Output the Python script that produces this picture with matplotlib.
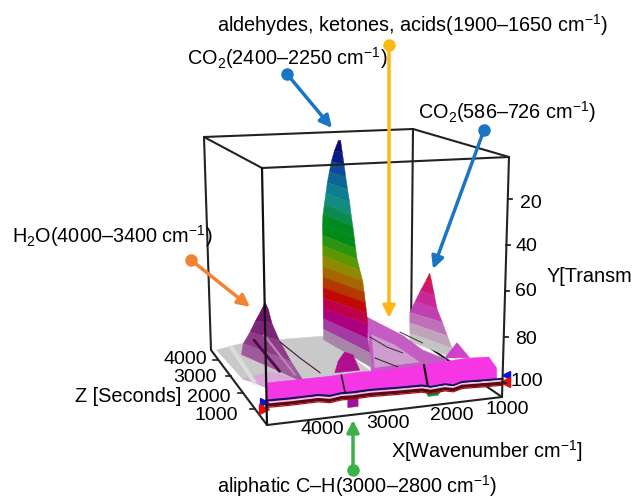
import matplotlib

matplotlib.use("Agg")
import matplotlib.pyplot as plt
import numpy as np

plt.rcParams["font.family"] = ["Liberation Sans", "DejaVu Sans"]
plt.rcParams["mathtext.fontset"] = "custom"
plt.rcParams["mathtext.rm"] = "Liberation Sans"
plt.rcParams["mathtext.default"] = "rm"

# axis ranges of the 3D box
WN_RANGE = (4600, 500)
Z_RANGE = (50, 4600)
T_RANGE = (2, 106)

x_ticks = [4000, 3000, 2000, 1000]
y_ticks = [20, 40, 60, 80, 100]
z_ticks = [4000, 3000, 2000, 1000]

# CO2 2400-2250 peak: contour levels, edges on far and near side
co2_T = [3, 8, 13, 18, 23, 28, 33, 38, 43, 48, 53, 58, 63, 68, 73, 78, 83, 88, 93, 98]
co2_left_wn = [2276, 2354, 2413, 2452, 2492, 2521, 2550, 2579, 2590, 2590, 2590,
               2590, 2590, 2590, 2590, 2590, 2590, 2590, 2590, 2590]
co2_right_wn = [2234, 2279, 2320, 2361, 2400, 2435, 2476, 2448, 2423, 2398, 2370,
                2320, 2267, 2242, 2218, 2193, 2173, 2247, 2271, 2312]
co2_right_z = [3690, 3460, 3235, 3010, 2780, 2550, 2325, 2325, 2325, 2325, 2325,
               2325, 2325, 2325, 2325, 2325, 2325, 2100, 1870, 1640]
co2_colors = ["#0a0a6e", "#0c1c86", "#0f4a9c", "#0c6596", "#0f7d90", "#128c80",
              "#0a8c50", "#008a20", "#008a18", "#2c9410", "#5c9600", "#8f8a00", "#a56800",
              "#b03a00", "#c00808", "#be0048", "#ac0080", "#a23aa2", "#a884a8"]

# CO2 586-726 peak
co2b_T = [66.9, 70, 75, 80, 85, 90, 95, 99]
co2b_left_wn = [692, 750, 861, 963, 1062, 1062, 1057, 1057]
co2b_right_wn = [692, 734, 767, 800, 780, 767, 725, 700]
co2b_right_z = [3235, 3010, 2780, 2550, 2325, 2100, 1960, 1800]
co2b_colors = ["#d81030", "#d0186a", "#c82898", "#c040b0", "#c070b8", "#bfa4bb", "#c4c4c4"]

# H2O 4000-3400 peak
h2o_T = [76.5, 80, 85, 90, 95, 100]
h2o_left_wn = [3788, 3862, 3985, 4096, 4231, 4272]
h2o_right_wn = [3788, 3727, 3723, 3706, 3673, 3600]
h2o_right_z = [3460, 3460, 3235, 2780, 2100, 1415]
h2o_colors = ["#5e0a58", "#6e1468", "#7c2476", "#8e3c88", "#a05a9c"]

# gray floor behind the peaks
floor_wn = [4520, 4297, 3612, 2673, 2378, 4325, 4465]
floor_z = [4460, 3460, 3460, 3460, 1415, 1415, 2552]
floor_T = [105, 95, 94.5, 94.6, 98.3, 99, 104.5]

pale_wn = [4465, 4325, 3780, 4231]
pale_z = [2552, 1415, 1415, 1415]
pale_T = [104, 100.2, 97.5, 93.8]

# mauve surface between the two CO2 peaks (z = 2325)
ridge_wn = [2191, 1892, 1518, 1144, 696, 696, 2097]
ridge_T = [79.6, 84, 89.5, 97, 102.5, 108, 108.6]
mid_wn = [2097, 1668, 1201, 2042]
mid_T = [88, 93.5, 102.5, 103]

# small peaks just behind the front curtain (z = 1415)
ch_wn = [3054, 2990, 2874, 2720, 2600]
ch_T = [97, 92, 88.3, 90, 97]
fp_wn = [1056, 837, 602]
fp_T = [95.4, 89, 96.4]

# front curtain at z = 50
front_wn = [4600, 3480, 3000, 2500, 2240, 1500, 1150, 750, 610, 600, 4600]
front_T = [89, 89, 88.6, 89, 89, 88, 87.5, 88, 93, 98, 97.5]

# baseline traces on the front plane
base_wn = [4600, 4200, 3700, 3500, 3300, 3100, 2800, 2300, 1900, 1750, 1500, 1350, 1200, 800, 500]
base_T = [97.6, 97.8, 97.7, 98.6, 98, 98.2, 98, 98.4, 98.6, 99.6, 99.2, 100, 99, 99.4, 99.6]

# thin dark curves on the surface (z = 2325)
curve1_wn, curve1_T = [3817, 3443, 3069], [87.4, 95.5, 103]
curve2_wn, curve2_T = [2042, 1611], [98.6, 103.7]
curve3_wn, curve3_T = [2135, 1818, 1518], [88.8, 94.1, 97.5]
curve4_wn, curve4_T = [1574, 1144], [87.8, 93.8]

# streaks running along z on the H2O flank and on the floor
streak1_wn, streak1_z, streak1_T = [4190, 4054], [2780, 1415], [88.8, 94]
streak2_wn, streak2_z, streak2_T = [3993, 3780], [2780, 1415], [87, 96]
streak3_wn, streak3_z, streak3_T = [4350, 4380], [3900, 2000], [100, 102]

CORNERS_X = {(0, 0, 0): 262, (1, 0, 0): 509, (0, 1, 0): 204, (1, 1, 0): 413,
             (0, 0, 1): 267, (1, 0, 1): 502, (0, 1, 1): 211, (1, 1, 1): 411}
CORNERS_Y = {(0, 0, 0): 168, (1, 0, 0): 157, (0, 1, 0): 137, (1, 1, 0): 129,
             (0, 0, 1): 425, (1, 0, 1): 397, (0, 1, 1): 350, (1, 1, 1): 335}


def project(wn, z, t):
    """Box coordinates to figure pixels, trilinear between the box corners."""
    a = (WN_RANGE[0] - np.asarray(wn, float)) / (WN_RANGE[0] - WN_RANGE[1])
    s = (np.asarray(z, float) - Z_RANGE[0]) / (Z_RANGE[1] - Z_RANGE[0])
    h = (np.asarray(t, float) - T_RANGE[0]) / (T_RANGE[1] - T_RANGE[0])
    px, py = 0, 0
    for (i, j, k), cx in CORNERS_X.items():
        w = (a if i else 1 - a) * (s if j else 1 - s) * (h if k else 1 - h)
        px = px + w * cx
        py = py + w * CORNERS_Y[(i, j, k)]
    return px, py


def poly(ax, wn, z, t, color, zorder):
    z = np.full(len(wn), z) if np.isscalar(z) else z
    px, py = project(wn, z, t)
    ax.fill(px, py, color=color, lw=0.3, zorder=zorder)


def peak(ax, levels, left_wn, left_z, right_wn, right_z, colors, zorder):
    for i, c in enumerate(colors):
        wn = [left_wn[i], right_wn[i], right_wn[i + 1], left_wn[i + 1]]
        z = [left_z, right_z[i], right_z[i + 1], left_z]
        t = [levels[i], levels[i], levels[i + 1], levels[i + 1]]
        poly(ax, wn, np.array(z), t, c, zorder)


def line(ax, wn, z, t, color="black", lw=1.0, zorder=5):
    z = np.full(len(wn), z) if np.isscalar(z) else z
    px, py = project(wn, z, t)
    ax.plot(px, py, color=color, lw=lw, zorder=zorder, solid_capstyle="round")


fig = plt.figure(figsize=(6.33, 4.99), dpi=100)
ax = fig.add_axes([0, 0, 1, 1])
ax.set_xlim(0, 633)
ax.set_ylim(499, 0)
ax.axis("off")

wa, wb = WN_RANGE
za, zb = Z_RANGE
ta, tb = T_RANGE
box = "#222222"

# back edges of the box
line(ax, [wa, wb], zb, [ta, ta], box, 1.5, 1)
line(ax, [wa, wa], zb, [ta, tb], box, 1.5, 1)
line(ax, [wb, wb], zb, [ta, tb], box, 1.5, 1)
line(ax, [wa, wa], [za, zb], [ta, ta], box, 1.5, 1)
line(ax, [wb, wb], [za, zb], [ta, ta], box, 1.5, 1)
line(ax, [wa, wa], [za, zb], [tb, tb], box, 1.5, 1)
line(ax, [wb, wb], [za, zb], [tb, tb], box, 1.5, 1)

poly(ax, floor_wn, np.array(floor_z), floor_T, "#c9c9c9", 2)
poly(ax, pale_wn, np.array(pale_z), pale_T, "#d8a8d8", 2.1)
line(ax, streak3_wn, np.array(streak3_z), streak3_T, "#dcdcdc", 3.0, 2.2)
peak(ax, co2b_T, co2b_left_wn, 3235, co2b_right_wn, co2b_right_z, co2b_colors, 2.4)
poly(ax, ridge_wn, 2325, ridge_T, "#c45cc4", 2.5)
poly(ax, mid_wn, 2325, mid_T, "#cf9ccf", 2.6)
line(ax, curve2_wn, 2325, curve2_T, "#222222", 0.7, 2.7)
line(ax, curve3_wn, 2325, curve3_T, "#3a2a3a", 0.7, 2.7)
line(ax, curve4_wn, 2325, curve4_T, "#3a2a3a", 0.7, 2.7)
peak(ax, h2o_T, h2o_left_wn, 3460, h2o_right_wn, h2o_right_z, h2o_colors, 3)
line(ax, streak1_wn, np.array(streak1_z), streak1_T, "#4e0a4a", 2.0, 3.1)
line(ax, streak2_wn, np.array(streak2_z), streak2_T, "#c080b8", 1.6, 3.1)
peak(ax, co2_T, co2_left_wn, 3690, co2_right_wn, co2_right_z, co2_colors, 3.2)
poly(ax, ch_wn, 1415, ch_T, "#b01090", 4.2)
poly(ax, fp_wn, 1415, fp_T, "#d040c8", 4.2)
line(ax, curve1_wn, 2325, curve1_T, "#4a1040", 0.8, 4.5)

poly(ax, front_wn, 50, front_T, "#f436e4", 5)
line(ax, [3300, 3230], 50, [89, 97], "#222222", 1.2, 5.5)
line(ax, [1870, 1800], 50, [88.5, 97.5], "#111111", 1.6, 5.5)
poly(ax, [3190, 3010, 3010, 3190], 50, [99, 99, 102.8, 102.8], "#a0109a", 4.9)
poly(ax, [1850, 1720, 1560, 1620, 1790], 50, [99.2, 99.4, 100.2, 102, 102], "#0e8a30", 4.9)

base_T = np.array(base_T)
line(ax, base_wn, 50, base_T - 1.5, "#14145e", 1.5, 6)
line(ax, base_wn, 50, base_T - 0.6, "#f0c8d8", 1.3, 6)
line(ax, base_wn, 50, base_T + 0.4, "#5a0a14", 2.4, 6)
line(ax, base_wn, 50, base_T + 1.3, "#b01020", 0.9, 6)

# end markers of the baseline
for wn, mark in [(wa, ">"), (wb, "<")]:
    px, py = project(wn, za, 96.5)
    ax.plot(px - 3 if wn == wa else px + 3, py, mark, color="#1010e0", ms=6, zorder=6)
    px, py = project(wn, za, 99.5)
    ax.plot(px - 3 if wn == wa else px + 3, py, mark, color="#e01010", ms=7, zorder=6)

# front edges of the box, over the surface
line(ax, [wa, wb], za, [ta, ta], box, 1.5, 7)
line(ax, [wa, wa], za, [ta, tb], "#111111", 1.6, 7)
line(ax, [wb, wb], za, [ta, tb], box, 1.5, 7)
line(ax, [wa, wb], za, [tb, tb], box, 1.5, 7)

for v in y_ticks:
    px, py = project(wb, za, v)
    ax.plot([px, px + 4], [py, py], color=box, lw=1.3, zorder=7)
for v in z_ticks:
    px, py = project(wa, v, tb)
    ax.plot([px - 5, px], [py, py], color=box, lw=1.2, zorder=7)

TICK_SIZE = 14
for v, (px, py) in zip(x_ticks, [(322, 430), (388, 424), (452, 415), (507, 410)]):
    ax.text(px, py, str(v), fontsize=TICK_SIZE, ha="center", va="center", zorder=9)
for v, (px, py) in zip(y_ticks, [(520, 203), (515, 246), (515, 291), (515, 339), (511, 382)]):
    ax.text(px, py, str(v), fontsize=TICK_SIZE, ha="left", va="center", zorder=9)
for v, (px, py) in zip(z_ticks, [(207, 359), (217, 378), (231, 397), (238, 415)]):
    ax.text(px, py, str(v), fontsize=TICK_SIZE, ha="right", va="center", zorder=9)

ARROWS = [
    ((287, 74), (332, 128), "#1a75c4"),
    ((389, 45), (389, 318), "#fdb913"),
    ((484, 130), (433, 269), "#1a75c4"),
    ((191, 260), (250, 307), "#f58233"),
    ((353, 470), (353, 420), "#3cb14a"),
]
for start, end, color in ARROWS:
    ax.annotate("", xy=end, xytext=start, zorder=8,
                arrowprops=dict(arrowstyle="-|>", lw=2.5, color=color,
                                mutation_scale=18, shrinkA=0, shrinkB=0))
    ax.plot(*start, "o", color=color, ms=8, zorder=8)

LABELS = [
    (217, 25, "aldehydes, ketones, acids(1900–1650 cm$^{-1}$)"),
    (187, 58, "CO$_2$(2400–2250 cm$^{-1}$)"),
    (418, 112, "CO$_2$(586–726 cm$^{-1}$)"),
    (12, 236, "H$_2$O(4000–3400 cm$^{-1}$)"),
    (547, 277, "Y[Transm"),
    (391, 451, "X[Wavenumber cm$^{-1}$]"),
    (75, 396, "Z [Seconds]"),
    (217, 486, "aliphatic C–H(3000–2800 cm$^{-1}$)"),
]
for px, py, text in LABELS:
    ax.text(px, py, text, fontsize=14.3, ha="left", va="center", zorder=9)

fig.savefig("out.png", dpi=100)
